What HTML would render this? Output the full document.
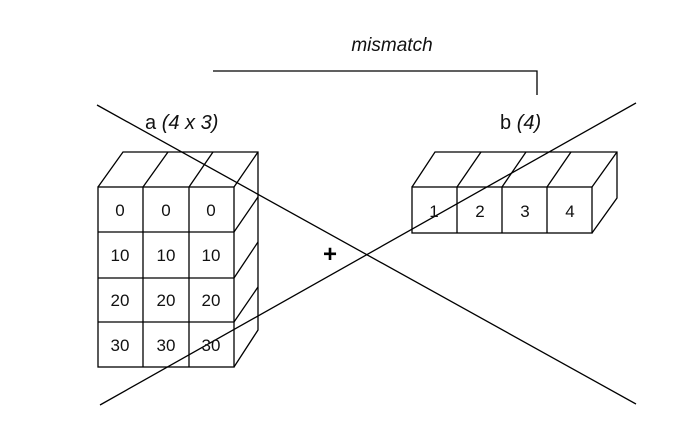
<!DOCTYPE html>
<html><head><style>body{margin:0;background:#fff}svg{display:block}</style></head><body>
<svg width="691" height="440" viewBox="0 0 691 440" xmlns="http://www.w3.org/2000/svg" font-family="Liberation Sans, sans-serif">
<g stroke="#000" stroke-width="1.3" fill="none">
<rect x="98" y="187" width="136" height="180"/>
<line x1="143" y1="187" x2="143" y2="367"/><line x1="189" y1="187" x2="189" y2="367"/>
<line x1="98" y1="232" x2="234" y2="232"/><line x1="98" y1="278" x2="234" y2="278"/><line x1="98" y1="322" x2="234" y2="322"/>
<polyline points="98,187 123,152 258,152 258,330 234,367"/>
<line x1="258" y1="152" x2="234" y2="187"/>
<line x1="143" y1="187" x2="168" y2="152"/><line x1="189" y1="187" x2="213" y2="152"/>
<line x1="234" y1="232" x2="258" y2="197"/><line x1="234" y1="278" x2="258" y2="242"/><line x1="234" y1="322" x2="258" y2="287"/>
<rect x="412" y="187" width="180" height="46"/>
<line x1="457" y1="187" x2="457" y2="233"/><line x1="502" y1="187" x2="502" y2="233"/><line x1="547" y1="187" x2="547" y2="233"/>
<polyline points="412,187 435,152 617,152 617,198 592,233"/>
<line x1="617" y1="152" x2="592" y2="187"/>
<line x1="457" y1="187" x2="481" y2="152"/><line x1="502" y1="187" x2="526" y2="152"/><line x1="547" y1="187" x2="571" y2="152"/>
<line x1="97" y1="105" x2="636" y2="404"/>
<line x1="100" y1="405" x2="636" y2="103"/>
<polyline points="213,71 537,71 537,95"/>
</g>
<g font-size="17" text-anchor="middle" fill="#111">
<text x="120" y="216">0</text><text x="166" y="216">0</text><text x="211" y="216">0</text>
<text x="120" y="261">10</text><text x="166" y="261">10</text><text x="211" y="261">10</text>
<text x="120" y="306">20</text><text x="166" y="306">20</text><text x="211" y="306">20</text>
<text x="120" y="351">30</text><text x="166" y="351">30</text><text x="211" y="351">30</text>
<text x="434" y="217">1</text><text x="480" y="217">2</text><text x="525" y="217">3</text><text x="570" y="217">4</text>
</g>
<text x="145" y="129" font-size="20" fill="#111">a <tspan font-style="italic">(4 x 3)</tspan></text>
<text x="500" y="129" font-size="20" fill="#111">b <tspan font-style="italic">(4)</tspan></text>
<text x="392" y="51" font-size="19" font-style="italic" text-anchor="middle" fill="#111">mismatch</text>
<text x="330" y="262" font-size="24" font-weight="bold" text-anchor="middle">+</text>
</svg>
</body></html>
